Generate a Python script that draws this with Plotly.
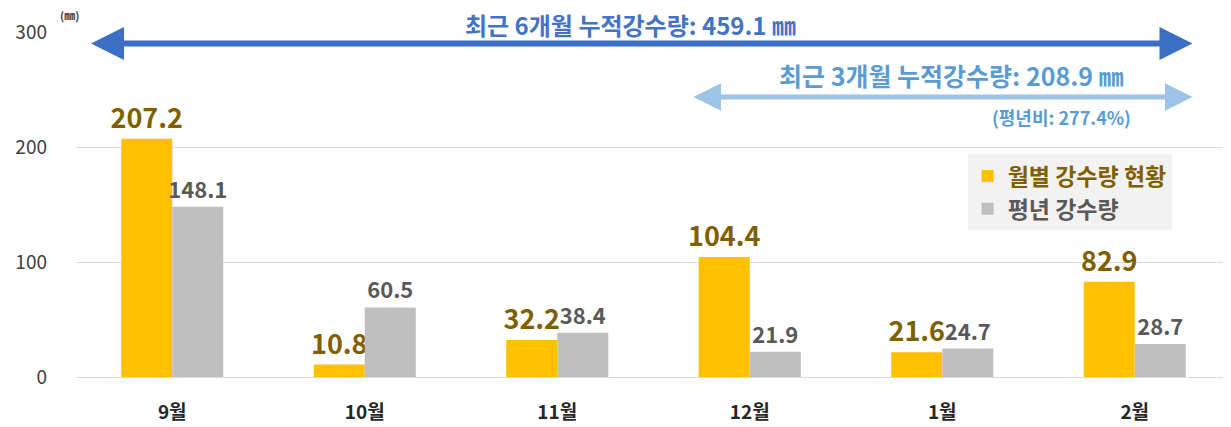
import plotly.graph_objects as go

months = ["9월", "10월", "11월", "12월", "1월", "2월"]
monthly = [207.2, 10.8, 32.2, 104.4, 21.6, 82.9]
normal = [148.1, 60.5, 38.4, 21.9, 24.7, 28.7]
y_ticks = [0, 100, 200, 300]

FONT = "Noto Sans CJK KR"
fig = go.Figure()
fig.add_trace(go.Bar(
    x=months, y=monthly,
    name="<span style='color:#7F6000'>월별 강수량 현황</span>",
    marker=dict(color="#FFC000", line=dict(width=0)),
    text=[f"{v:.1f}" for v in monthly], textposition="outside",
    constraintext="none",
    textfont=dict(family=FONT, size=27, color="#7F6000", weight="bold"),
    cliponaxis=False,
))
fig.add_trace(go.Bar(
    x=months, y=normal,
    name="<span style='color:#595959'>평년 강수량</span>",
    marker=dict(color="#BFBFBF", line=dict(width=0)),
    text=[f"{v:.1f}" for v in normal], textposition="outside",
    constraintext="none",
    textfont=dict(family=FONT, size=22, color="#595959", weight="bold"),
    cliponaxis=False,
))

# page body has an 8px margin; figure sized to fit the 1231x427 window
fig.update_layout(
    width=1223, height=419,
    margin=dict(l=68, r=0, t=24, b=50),
    paper_bgcolor="white", plot_bgcolor="white",
    barmode="group", bargap=0.47, bargroupgap=0,
    font=dict(family=FONT, color="#404040"),
    showlegend=True,
    legend=dict(
        x=0.772, y=0.645, xanchor="left", yanchor="top",
        bgcolor="#F2F2F2", borderwidth=0,
        font=dict(family=FONT, size=23, weight="bold"),
        itemwidth=30, tracegroupgap=0,
    ),
)
fig.update_xaxes(
    range=[-0.5, 5.5], showgrid=False, showline=False, ticks="",
    ticklabelstandoff=22,
    tickfont=dict(family=FONT, size=19, color="#262626", weight="bold"),
)
fig.update_yaxes(
    range=[0, 300], tickvals=y_ticks, showgrid=True, gridcolor="#D9D9D9",
    zeroline=True, zerolinecolor="#D9D9D9", zerolinewidth=1,
    ticks="", ticklabelstandoff=28,
    tickfont=dict(family=FONT, size=19, color="#404040"),
)

# arrows
fig.add_annotation(x=5.30, y=290, ax=-0.43, ay=290, xref="x", yref="y",
                   axref="x", ayref="y", text="", showarrow=True,
                   arrowhead=2, arrowside="end+start", arrowwidth=6,
                   arrowsize=1.1, arrowcolor="#3A6FC4", standoff=0, startstandoff=0)
fig.add_annotation(x=5.30, y=243.5, ax=2.70, ay=243.5, xref="x", yref="y",
                   axref="x", ayref="y", text="", showarrow=True,
                   arrowhead=2, arrowside="end+start", arrowwidth=5,
                   arrowsize=1.1, arrowcolor="#9DC3E6", standoff=0, startstandoff=0)

fig.add_annotation(x=0.48, y=1.022, xref="paper", yref="paper", xanchor="center", yanchor="middle",
                   text="최근 6개월 누적강수량: 459.1 ㎜",
                   showarrow=False, font=dict(family=FONT, size=24, color="#4472C4", weight="bold"))
fig.add_annotation(x=4.05, y=262.5, xref="x", yref="y", text="최근 3개월 누적강수량: 208.9 ㎜",
                   showarrow=False, font=dict(family=FONT, size=25, color="#5B9BD5", weight="bold"))
fig.add_annotation(x=4.62, y=226, xref="x", yref="y", text="(평년비: 277.4%)",
                   showarrow=False, font=dict(family=FONT, size=18, color="#5B9BD5", weight="bold"))
fig.add_annotation(x=-0.006, y=1.048, xref="paper", yref="paper", xanchor="center", yanchor="middle",
                   text="(㎜)",
                   showarrow=False, font=dict(family=FONT, size=11, color="#404040", weight="bold"))

fig.write_html("out.html")
